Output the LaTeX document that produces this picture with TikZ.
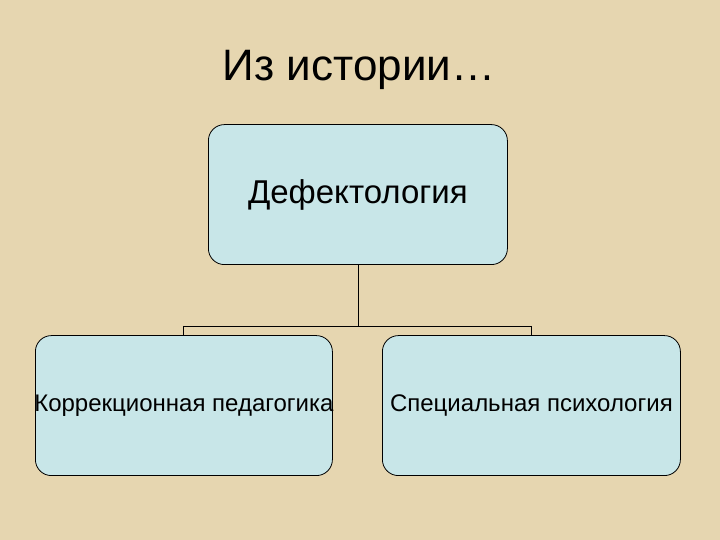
\documentclass[tikz,border=0pt]{standalone}
\usepackage{fontspec}
\setmainfont{Liberation Sans}
\begin{document}
\begin{tikzpicture}[x=1pt,y=1pt,
  box/.style={draw=black,line width=0.8pt,fill=boxblue,rounded corners=16pt,anchor=south west,inner sep=0pt},
  conn/.style={draw=black,line width=0.8pt}]
\definecolor{bg}{RGB}{230,214,176}
\definecolor{boxblue}{RGB}{200,230,232}
\fill[bg] (0,0) rectangle (720,540);
\useasboundingbox (0,0) rectangle (720,540);
\node (title) at (359,470) {\fontsize{44}{50}\selectfont Из истории…};
\node[box,minimum width=299pt,minimum height=140pt] (top) at (208,275) {};
\node at (top.center) {\fontsize{33}{38}\selectfont Дефектология};
\node[box,minimum width=297pt,minimum height=140pt] (left) at (35,64) {};
\node at (left.center) {\fontsize{24}{28}\selectfont Коррекционная педагогика};
\node[box,minimum width=298pt,minimum height=140pt] (right) at (382,64) {};
\node at (right.center) {\fontsize{24}{28}\selectfont Специальная психология};
\coordinate (jl) at (183,214);
\coordinate (jr) at (531,214);
\draw[conn] (top.south) -- (top.south |- jl);
\draw[conn] (jl) -- (jr);
\draw[conn] (jl) -- (jl |- left.north);
\draw[conn] (jr) -- (jr |- right.north);
\end{tikzpicture}
\end{document}
